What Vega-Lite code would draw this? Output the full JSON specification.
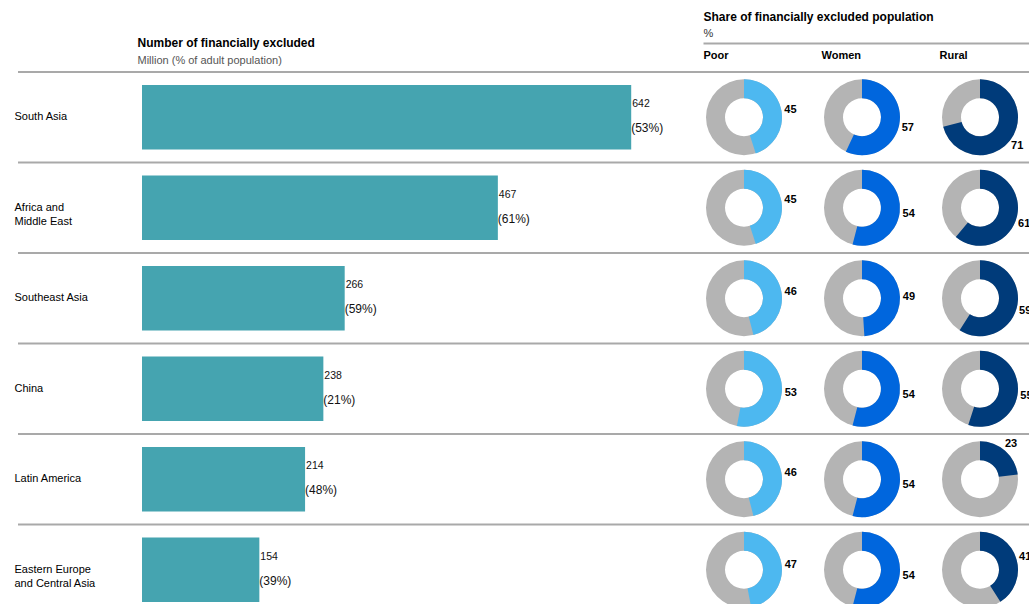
{
  "$schema": "https://vega.github.io/schema/vega-lite/v6.json",
  "width": 1011,
  "height": 532,
  "autosize": {"type": "none"},
  "padding": {"left": 18, "top": 72, "right": 0, "bottom": 0},
  "background": "white",
  "config": {
    "view": {"stroke": null},
    "font": "Liberation Sans",
    "axis": {"labelFont": "Liberation Sans", "titleFont": "Liberation Sans"}
  },
  "datasets": {
    "regions": [
      {"region": "South Asia", "excluded": 642, "adult_pct": 53},
      {"region": "Africa and Middle East", "excluded": 467, "adult_pct": 61},
      {"region": "Southeast Asia", "excluded": 266, "adult_pct": 59},
      {"region": "China", "excluded": 238, "adult_pct": 21},
      {"region": "Latin America", "excluded": 214, "adult_pct": 48},
      {"region": "Eastern Europe and Central Asia", "excluded": 154, "adult_pct": 39}
    ],
    "shares": [
      {"region": "South Asia", "group": "Poor", "share": 45},
      {"region": "South Asia", "group": "Women", "share": 57},
      {"region": "South Asia", "group": "Rural", "share": 71},
      {"region": "Africa and Middle East", "group": "Poor", "share": 45},
      {"region": "Africa and Middle East", "group": "Women", "share": 54},
      {"region": "Africa and Middle East", "group": "Rural", "share": 61},
      {"region": "Southeast Asia", "group": "Poor", "share": 46},
      {"region": "Southeast Asia", "group": "Women", "share": 49},
      {"region": "Southeast Asia", "group": "Rural", "share": 59},
      {"region": "China", "group": "Poor", "share": 53},
      {"region": "China", "group": "Women", "share": 54},
      {"region": "China", "group": "Rural", "share": 55},
      {"region": "Latin America", "group": "Poor", "share": 46},
      {"region": "Latin America", "group": "Women", "share": 54},
      {"region": "Latin America", "group": "Rural", "share": 23},
      {"region": "Eastern Europe and Central Asia", "group": "Poor", "share": 47},
      {"region": "Eastern Europe and Central Asia", "group": "Women", "share": 54},
      {"region": "Eastern Europe and Central Asia", "group": "Rural", "share": 41}
    ]
  },
  "layer": [
    {
      "data": {"name": "regions"},
      "mark": {"type": "rule", "color": "#a9a9a9", "strokeWidth": 2},
      "encoding": {
        "y": {
          "field": "region",
          "type": "nominal",
          "bandPosition": 0,
          "title": null,
          "scale": {
            "domain": ["South Asia", "Africa and Middle East", "Southeast Asia", "China", "Latin America", "Eastern Europe and Central Asia"],
            "range": [0, 543],
            "paddingInner": 0,
            "paddingOuter": 0
          },
          "axis": {
            "orient": "left",
            "domain": false,
            "ticks": false,
            "tickSize": 0,
            "grid": false,
            "labelAlign": "left",
            "labelBaseline": "middle",
            "labelPadding": 4,
            "labelFontSize": 11,
            "labelColor": "#000000",
            "labelLineHeight": 14,
            "labelLimit": 0,
            "labelExpr": "datum.value == 'Africa and Middle East' ? ['Africa and', 'Middle East'] : datum.value == 'Eastern Europe and Central Asia' ? ['Eastern Europe', 'and Central Asia'] : datum.value"
          }
        }
      }
    },
    {
      "data": {"name": "regions"},
      "layer": [
        {
          "mark": {"type": "bar", "color": "#45a4b0", "height": {"band": 0.71}},
          "encoding": {
            "x": {
              "field": "excluded",
              "type": "quantitative",
              "title": "Number of financially excluded",
              "scale": {"domain": [0, 1000], "range": [124, 886], "nice": false, "zero": true},
              "axis": {
                "orient": "top",
                "domain": false,
                "ticks": false,
                "labels": false,
                "grid": false,
                "titleFontSize": 12,
                "titleFontWeight": "bold",
                "titleColor": "#000000",
                "titleAnchor": "start",
                "titleAlign": "left",
                "titleBaseline": "alphabetic",
                "titleX": 119,
                "titleY": -26
              }
            },
            "y": {"field": "region", "type": "nominal", "title": null}
          }
        },
        {
          "mark": {"type": "text", "align": "left", "baseline": "middle", "dx": 1, "dy": -13, "fontSize": 10.5, "color": "#111111"},
          "encoding": {
            "x": {"field": "excluded", "type": "quantitative"},
            "y": {"field": "region", "type": "nominal", "title": null},
            "text": {"field": "excluded", "type": "quantitative"}
          }
        }
      ]
    },
    {
      "data": {"name": "regions"},
      "transform": [{"calculate": "'(' + datum.adult_pct + '%)'", "as": "adult_label"}],
      "mark": {"type": "text", "align": "left", "baseline": "middle", "dx": 0, "dy": 11, "fontSize": 12, "color": "#111111"},
      "encoding": {
        "x": {
          "field": "excluded",
          "type": "quantitative",
          "title": "Million (% of adult population)",
          "scale": {"domain": [0, 1000], "range": [124, 886], "nice": false, "zero": true},
          "axis": {
            "orient": "top",
            "domain": false,
            "ticks": false,
            "labels": false,
            "grid": false,
            "titleFontSize": 11,
            "titleFontWeight": "normal",
            "titleColor": "#555555",
            "titleAnchor": "start",
            "titleAlign": "left",
            "titleBaseline": "alphabetic",
            "titleX": 119,
            "titleY": -9
          }
        },
        "y": {"field": "region", "type": "nominal", "title": null},
        "text": {"field": "adult_label", "type": "nominal"}
      }
    },
    {
      "data": {"name": "shares"},
      "layer": [
        {
          "mark": {"type": "arc", "color": "#b4b4b4", "radius": 38, "radius2": 19, "theta": 0, "theta2": 6.283185307179586},
          "encoding": {
            "x": {
              "field": "group",
              "type": "nominal",
              "title": "Share of financially excluded  population",
              "scale": {"type": "point", "domain": ["Poor", "Women", "Rural"], "range": [726, 962], "padding": 0},
              "axis": {
                "orient": "top",
                "domain": false,
                "ticks": false,
                "grid": false,
                "labelAngle": 0,
                "labelAlign": "left",
                "labelBaseline": "bottom",
                "labelOffset": -41,
                "labelPadding": 12,
                "labelFontSize": 11,
                "labelFontWeight": "bold",
                "labelColor": "#000000",
                "titleFontSize": 12,
                "titleFontWeight": "bold",
                "titleColor": "#000000",
                "titleAnchor": "start",
                "titleAlign": "left",
                "titleBaseline": "alphabetic",
                "titleX": 685,
                "titleY": -52
              }
            },
            "y": {"field": "region", "type": "nominal", "title": null}
          }
        },
        {
          "mark": {"type": "arc", "radius": 38, "radius2": 19},
          "encoding": {
            "x": {"field": "group", "type": "nominal"},
            "y": {"field": "region", "type": "nominal", "title": null},
            "theta": {"field": "share", "type": "quantitative", "stack": null, "scale": {"domain": [0, 100], "range": [0, 6.283185307179586]}},
            "color": {
              "field": "group",
              "type": "nominal",
              "scale": {"domain": ["Poor", "Women", "Rural"], "range": ["#4db8f0", "#0066dd", "#003b7a"]},
              "legend": null
            }
          }
        }
      ]
    },
    {
      "data": {"name": "shares"},
      "mark": {"type": "text", "align": "center", "baseline": "middle", "radius": 47, "fontSize": 11, "fontWeight": "bold", "color": "#000000"},
      "encoding": {
        "x": {
          "field": "group",
          "type": "nominal",
          "title": "%",
          "scale": {"type": "point", "domain": ["Poor", "Women", "Rural"], "range": [685, 1039], "padding": 0.5, "align": 0.3475},
          "axis": {
            "orient": "top",
            "offset": 29,
            "domain": true,
            "domainColor": "#a9a9a9",
            "domainWidth": 2,
            "ticks": false,
            "labels": false,
            "grid": false,
            "titleFontSize": 11,
            "titleFontWeight": "normal",
            "titleColor": "#333333",
            "titleAnchor": "start",
            "titleAlign": "left",
            "titleBaseline": "alphabetic",
            "titleX": 685,
            "titleY": -7
          }
        },
        "y": {"field": "region", "type": "nominal", "title": null},
        "theta": {"field": "share", "type": "quantitative", "stack": null, "scale": {"domain": [0, 200], "range": [0, 6.283185307179586]}},
        "text": {"field": "share", "type": "quantitative"}
      }
    }
  ],
  "resolve": {"scale": {"x": "independent", "theta": "independent"}}
}
